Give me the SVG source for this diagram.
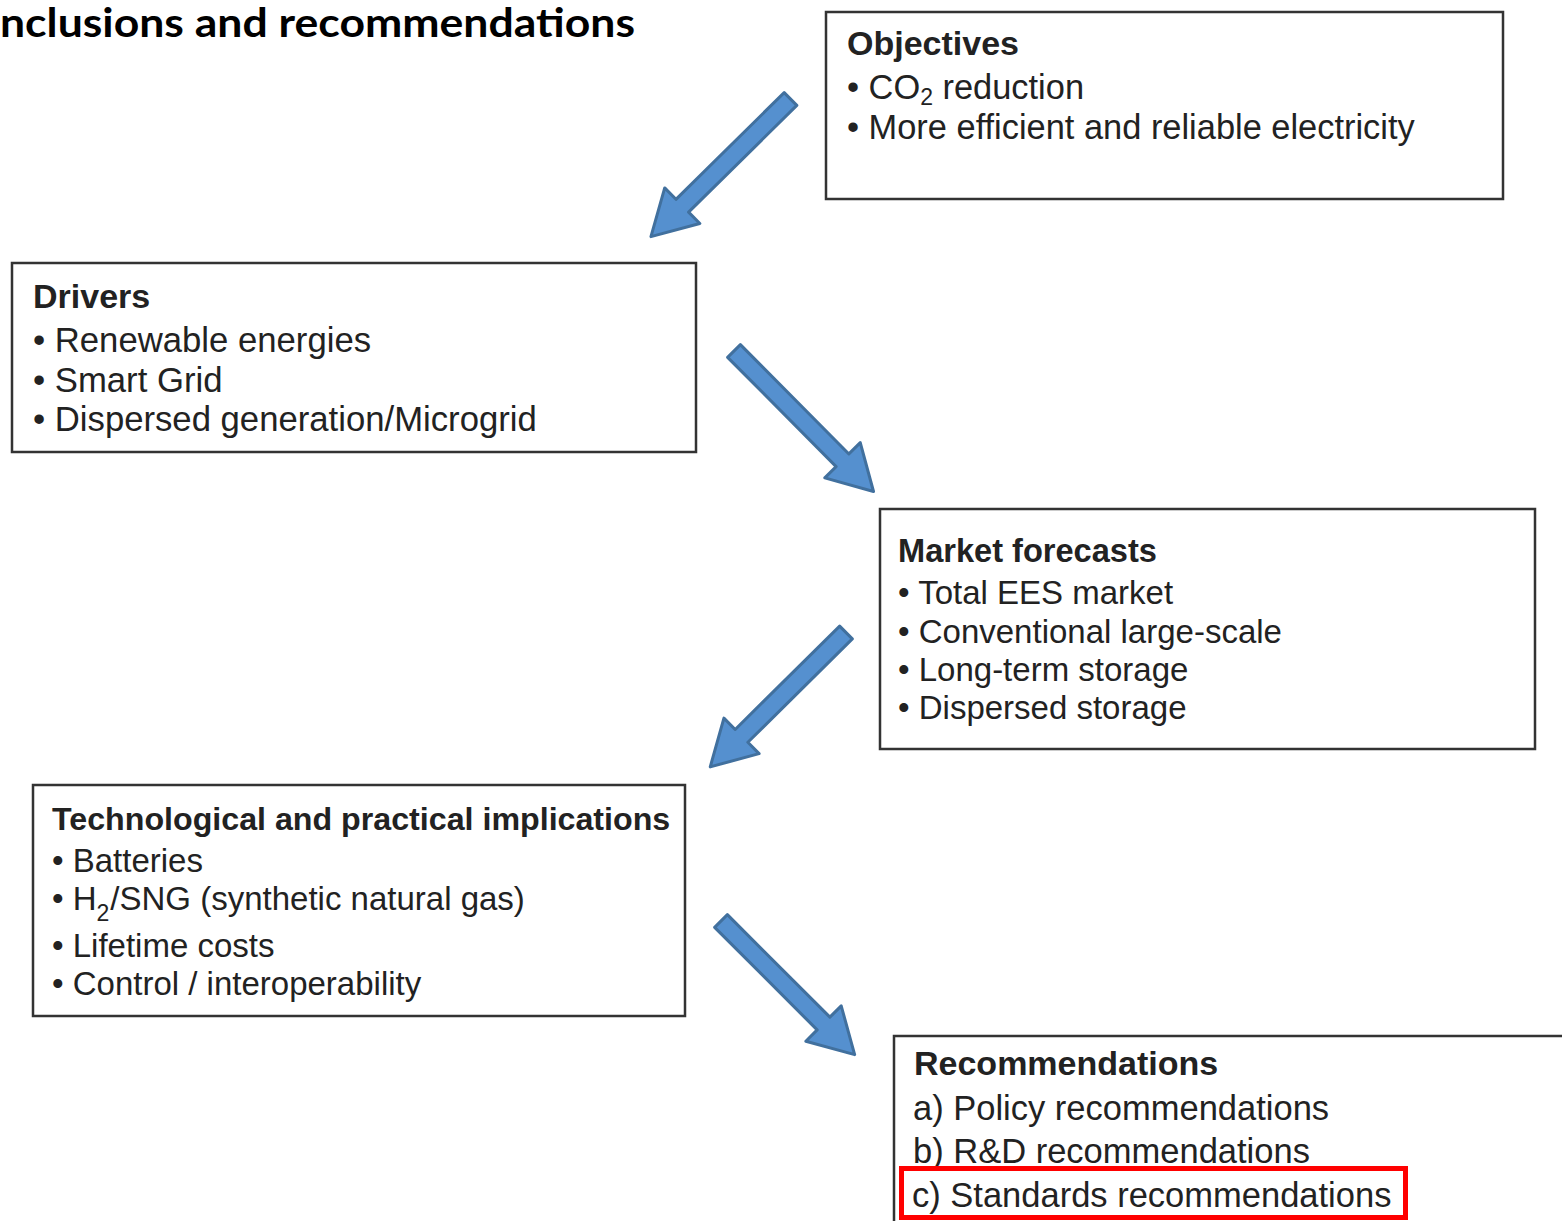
<svg xmlns="http://www.w3.org/2000/svg" width="1562" height="1221" viewBox="0 0 1562 1221">
<style>
.box{fill:#fff;stroke:#333;stroke-width:2.5}
.t{font-family:"Liberation Sans",Arial,sans-serif;fill:#222}
.b{font-weight:bold}
.arr{fill:#5590cf;stroke:#41709e;stroke-width:3;stroke-linejoin:round}
.title{font-family:Lato,"Open Sans","Liberation Sans",sans-serif;font-weight:bold;font-size:40px;fill:#000}
</style>
<rect width="1562" height="1221" fill="#fff"/>
<text class="title" x="0" y="37" textLength="635" lengthAdjust="spacingAndGlyphs">nclusions and recommendations</text>

<g id="objectives">
<rect class="box" x="826" y="12" width="677" height="187"/>
<text class="t b" x="847" y="55" font-size="34">Objectives</text>
<text class="t" x="847" y="99" font-size="34.4">• CO<tspan font-size="23" dy="6">2</tspan><tspan dy="-6"> reduction</tspan></text>
<text class="t" x="847" y="139" font-size="34.4">• More efficient and reliable electricity</text>
</g>

<g id="drivers">
<rect class="box" x="12" y="263" width="684" height="189"/>
<text class="t b" x="33" y="308" font-size="34">Drivers</text>
<text class="t" x="33" y="352" font-size="34.7">• Renewable energies</text>
<text class="t" x="33" y="392" font-size="34.7">• Smart Grid</text>
<text class="t" x="33" y="431" font-size="34.7">• Dispersed generation/Microgrid</text>
</g>

<g id="market">
<rect class="box" x="880" y="509" width="655" height="240"/>
<text class="t b" x="898" y="562" font-size="32.6">Market forecasts</text>
<text class="t" x="898" y="604" font-size="33">• Total EES market</text>
<text class="t" x="898" y="643" font-size="33">• Conventional large-scale</text>
<text class="t" x="898" y="681" font-size="33">• Long-term storage</text>
<text class="t" x="898" y="719" font-size="33">• Dispersed storage</text>
</g>

<g id="implications">
<rect class="box" x="33" y="785" width="652" height="231"/>
<text class="t b" x="52" y="830" font-size="32.2">Technological and practical implications</text>
<text class="t" x="52" y="872" font-size="33">• Batteries</text>
<text class="t" x="52" y="910" font-size="33">• H<tspan font-size="23" dy="11">2</tspan><tspan dy="-11" dx="1">/SNG (synthetic natural gas)</tspan></text>
<text class="t" x="52" y="957" font-size="33">• Lifetime costs</text>
<text class="t" x="52" y="995" font-size="33">• Control / interoperability</text>
</g>

<g id="recommendations">
<rect class="box" x="894" y="1036" width="700" height="300"/>
<text class="t b" x="914" y="1075" font-size="34">Recommendations</text>
<text class="t" x="913" y="1120" font-size="34.5">a) Policy recommendations</text>
<text class="t" x="913" y="1163" font-size="34.5">b) R&amp;D recommendations</text>
<text class="t" x="912" y="1207" font-size="34.5">c) Standards recommendations</text>
<rect x="901.5" y="1168.5" width="504" height="49" fill="none" stroke="#ff0000" stroke-width="5"/>
</g>

<g id="connectors">
<path class="arr" transform="translate(790.5,99) rotate(135.4)" d="M0,-9 L152,-9 L152,-25 L196,0 L152,25 L152,9 L0,9 Z"/>
<path class="arr" transform="translate(734,351) rotate(45.2)" d="M0,-9 L154,-9 L154,-25 L198,0 L154,25 L154,9 L0,9 Z"/>
<path class="arr" transform="translate(846,632.5) rotate(135.3)" d="M0,-9 L147,-9 L147,-25 L191,0 L147,25 L147,9 L0,9 Z"/>
<path class="arr" transform="translate(721,921) rotate(45)" d="M0,-9 L145,-9 L145,-25 L189,0 L145,25 L145,9 L0,9 Z"/>
</g>
</svg>
